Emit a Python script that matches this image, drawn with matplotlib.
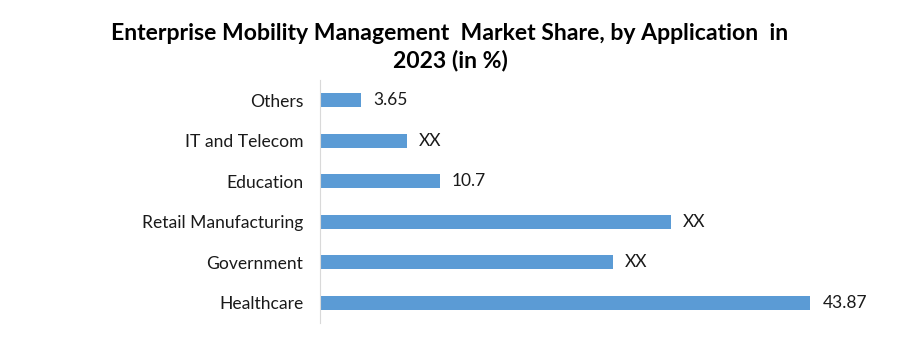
import numpy as np
import matplotlib
matplotlib.use("Agg")
import matplotlib.pyplot as plt

plt.rcParams['font.family'] = ['Lato', 'DejaVu Sans']

# data (bottom to top)
categories = ['Healthcare', 'Government', 'Retail Manufacturing', 'Education', 'IT and Telecom', 'Others']
values = [43.87, 26.2, 31.4, 10.7, 7.76, 3.65]
bar_labels = ['43.87', 'XX', 'XX', '10.7', 'XX', '3.65']

fig = plt.figure(figsize=(9, 3.62), dpi=100)
ax = fig.add_axes([0.3556, 0.1077, 0.6206, 0.6713])

y = np.arange(len(categories))
ax.barh(y, values, height=0.35, color='#5B9BD5')

for yi, v, lab in zip(y, values, bar_labels):
    ax.text(v + 1.1, yi, lab, va='center', ha='left', fontsize=12.5, color='#1a1a1a')

ax.set_xlim(0, 50)
ax.set_ylim(-0.5, len(categories) - 0.5)
ax.set_yticks(y)
ax.set_yticklabels(categories, fontsize=12.6, color='#1a1a1a')
ax.tick_params(axis='y', length=0, pad=12)
ax.set_xticks([])
for s in ['top', 'right', 'bottom']:
    ax.spines[s].set_visible(False)
ax.spines['left'].set_color('#d9d9d9')

fig.text(0.5, 0.937, 'Enterprise Mobility Management  Market Share, by Application  in\n2023 (in %)',
         ha='center', va='top', fontsize=16.6, fontweight='bold', linespacing=1.35)

fig.savefig('out.png', dpi=100)
